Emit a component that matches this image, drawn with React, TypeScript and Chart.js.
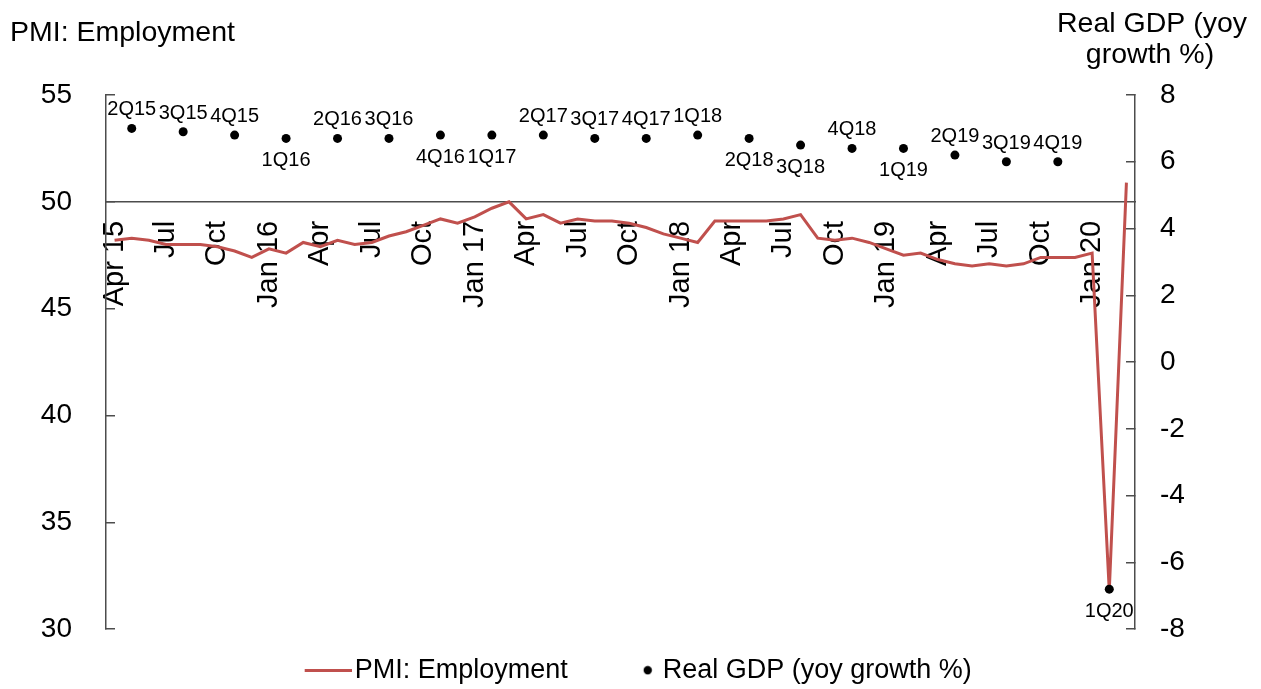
import React, { useEffect, useRef } from 'react';
import { Chart, registerables } from 'chart.js';

Chart.register(...registerables);

const months = [
  'Apr 15', 'May 15', 'Jun 15', 'Jul 15', 'Aug 15', 'Sep 15', 'Oct 15', 'Nov 15', 'Dec 15',
  'Jan 16', 'Feb 16', 'Mar 16', 'Apr 16', 'May 16', 'Jun 16', 'Jul 16', 'Aug 16', 'Sep 16', 'Oct 16', 'Nov 16', 'Dec 16',
  'Jan 17', 'Feb 17', 'Mar 17', 'Apr 17', 'May 17', 'Jun 17', 'Jul 17', 'Aug 17', 'Sep 17', 'Oct 17', 'Nov 17', 'Dec 17',
  'Jan 18', 'Feb 18', 'Mar 18', 'Apr 18', 'May 18', 'Jun 18', 'Jul 18', 'Aug 18', 'Sep 18', 'Oct 18', 'Nov 18', 'Dec 18',
  'Jan 19', 'Feb 19', 'Mar 19', 'Apr 19', 'May 19', 'Jun 19', 'Jul 19', 'Aug 19', 'Sep 19', 'Oct 19', 'Nov 19', 'Dec 19',
  'Jan 20', 'Feb 20', 'Mar 20',
];

const tickLabels = [
  'Apr 15', 'Jul', 'Oct', 'Jan 16', 'Apr', 'Jul', 'Oct', 'Jan 17', 'Apr', 'Jul',
  'Oct', 'Jan 18', 'Apr', 'Jul', 'Oct', 'Jan 19', 'Apr', 'Jul', 'Oct', 'Jan 20',
];

const pmiEmployment = [
  48.2, 48.3, 48.2, 48.0, 48.0, 48.0, 47.9, 47.7, 47.4,
  47.8, 47.6, 48.1, 47.9, 48.2, 48.0, 48.1, 48.4, 48.6, 48.9, 49.2, 49.0,
  49.3, 49.7, 50.0, 49.2, 49.4, 49.0, 49.2, 49.1, 49.1, 49.0, 48.8, 48.5,
  48.3, 48.1, 49.1, 49.1, 49.1, 49.1, 49.2, 49.4, 48.3, 48.2, 48.3, 48.1,
  47.8, 47.5, 47.6, 47.3, 47.1, 47.0, 47.1, 47.0, 47.1, 47.4, 47.4, 47.4,
  47.6, 31.8, 50.9,
];

const gdpQuarters = [
  '2Q15', '3Q15', '4Q15', '1Q16', '2Q16', '3Q16', '4Q16', '1Q17', '2Q17', '3Q17',
  '4Q17', '1Q18', '2Q18', '3Q18', '4Q18', '1Q19', '2Q19', '3Q19', '4Q19', '1Q20',
];

const gdpMonths = [
  'May 15', 'Aug 15', 'Nov 15', 'Feb 16', 'May 16', 'Aug 16', 'Nov 16', 'Feb 17', 'May 17', 'Aug 17',
  'Nov 17', 'Feb 18', 'May 18', 'Aug 18', 'Nov 18', 'Feb 19', 'May 19', 'Aug 19', 'Nov 19', 'Feb 20',
];

const gdpGrowth = [
  7.0, 6.9, 6.8, 6.7, 6.7, 6.7, 6.8, 6.8, 6.8, 6.7,
  6.7, 6.8, 6.7, 6.5, 6.4, 6.4, 6.2, 6.0, 6.0, -6.8,
];

const gdpLabelSide = [
  'above', 'above', 'above', 'below', 'above', 'above', 'below', 'below', 'above', 'above',
  'above', 'above', 'below', 'below', 'above', 'below', 'above', 'above', 'above', 'below',
];

const FONT = "'Liberation Sans', Arial, sans-serif";
const AXIS_COLOR = '#4d4d4d';
const LINE_COLOR = '#C0504D';

const gdpLabelPlugin = {
  id: 'gdpLabels',
  afterDatasetsDraw(chart: any) {
    const meta = chart.getDatasetMeta(1);
    const ctx = chart.ctx;
    ctx.save();
    ctx.font = `20px ${FONT}`;
    ctx.fillStyle = '#000';
    ctx.textAlign = 'center';
    ctx.textBaseline = 'alphabetic';
    meta.data.forEach((pt: any, i: number) => {
      const y = gdpLabelSide[i] === 'above' ? pt.y - 13 : pt.y + 28;
      ctx.fillText(gdpQuarters[i], pt.x, y);
    });
    ctx.restore();
  },
};

const axisTitlePlugin = {
  id: 'axisTitles',
  afterDraw(chart: any) {
    const ctx = chart.ctx;
    const area = chart.chartArea;
    ctx.save();
    ctx.font = `28.5px ${FONT}`;
    ctx.fillStyle = '#000';
    ctx.textBaseline = 'alphabetic';
    ctx.textAlign = 'left';
    ctx.fillText('PMI: Employment', area.left - 96, 41);
    ctx.textAlign = 'center';
    ctx.fillText('Real GDP (yoy', area.right + 17, 32);
    ctx.fillText('growth %)', area.right + 15, 63);
    ctx.restore();
  },
};

function makeLineSymbol() {
  const c = document.createElement('canvas');
  c.width = 75;
  c.height = 3;
  const g = c.getContext('2d')!;
  g.fillStyle = LINE_COLOR;
  g.fillRect(28, 0, 47, 3);
  return c;
}

function makeDotSymbol() {
  const c = document.createElement('canvas');
  c.width = 61;
  c.height = 10;
  const g = c.getContext('2d')!;
  g.fillStyle = '#000';
  g.beginPath();
  g.arc(56, 5, 4.2, 0, Math.PI * 2);
  g.fill();
  return c;
}

export default function App() {
  const canvasRef = useRef<HTMLCanvasElement | null>(null);

  useEffect(() => {
    if (!canvasRef.current) return;
    const lineSymbol = makeLineSymbol();
    const dotSymbol = makeDotSymbol();

    const chart = new Chart(canvasRef.current, {
      type: 'line',
      data: {
        labels: months,
        datasets: [
          {
            label: 'PMI: Employment',
            data: pmiEmployment,
            borderColor: LINE_COLOR,
            backgroundColor: LINE_COLOR,
            borderWidth: 3,
            pointRadius: 0,
            tension: 0,
            yAxisID: 'y',
            order: 2,
          },
          {
            label: 'Real GDP (yoy growth %)',
            data: gdpMonths.map((m, i) => ({ x: m, y: gdpGrowth[i] })),
            showLine: false,
            pointRadius: 4.5,
            pointBackgroundColor: '#000',
            pointBorderWidth: 0,
            borderColor: '#000',
            backgroundColor: '#000',
            yAxisID: 'y1',
            order: 1,
          },
        ],
      } as any,
      options: {
        animation: false,
        responsive: false,
        layout: { padding: { top: 95, bottom: -5, left: 0, right: 2 } },
        font: { family: FONT },
        plugins: {
          legend: {
            position: 'bottom',
            labels: {
              usePointStyle: true,
              pointStyleWidth: 54,
              padding: 27.5,
              color: '#000',
              font: { size: 27, family: FONT },
              generateLabels: () => [
                {
                  text: 'PMI: Employment',
                  pointStyle: lineSymbol,
                  fillStyle: LINE_COLOR,
                  strokeStyle: LINE_COLOR,
                  lineWidth: 0,
                  hidden: false,
                  datasetIndex: 0,
                  fontColor: '#000',
                },
                {
                  text: 'Real GDP (yoy growth %)',
                  pointStyle: dotSymbol,
                  fillStyle: '#000',
                  strokeStyle: '#000',
                  lineWidth: 0,
                  hidden: false,
                  datasetIndex: 1,
                  fontColor: '#000',
                },
              ],
            },
          },
          tooltip: { enabled: false },
        },
        scales: {
          x: {
            type: 'category',
            offset: true,
            position: { y: 50 },
            grid: { display: false, drawTicks: false },
            border: { display: true, color: AXIS_COLOR, width: 1.5 },
            ticks: {
              autoSkip: false,
              maxRotation: 90,
              minRotation: 90,
              padding: 19,
              color: '#000',
              font: { size: 29, family: FONT },
              callback: (_v: any, i: number) => (i % 3 === 0 ? tickLabels[i / 3] : ''),
            },
          },
          y: {
            position: 'left',
            min: 30,
            max: 55,
            ticks: { stepSize: 5, padding: 43, color: '#000', font: { size: 28, family: FONT } },
            grid: { drawOnChartArea: false, tickLength: -9, color: AXIS_COLOR, lineWidth: 1.5 },
            border: { color: AXIS_COLOR, width: 1.5 },
            afterFit: (s: any) => {
              s.width = 106;
            },
          },
          y1: {
            position: 'right',
            min: -8,
            max: 8,
            ticks: { stepSize: 2, padding: 34, color: '#000', font: { size: 28, family: FONT } },
            grid: { drawOnChartArea: false, tickLength: -9, color: AXIS_COLOR, lineWidth: 1.5 },
            border: { color: AXIS_COLOR, width: 1.5 },
            afterFit: (s: any) => {
              s.width = 124;
            },
          },
        },
      } as any,
      plugins: [gdpLabelPlugin, axisTitlePlugin],
    });

    return () => chart.destroy();
  }, []);

  return (
    <div style={{ position: 'fixed', left: 0, top: 0, width: 1261, height: 689, background: '#fff' }}>
      <canvas ref={canvasRef} width={1261} height={689} style={{ display: 'block' }} />
    </div>
  );
}
